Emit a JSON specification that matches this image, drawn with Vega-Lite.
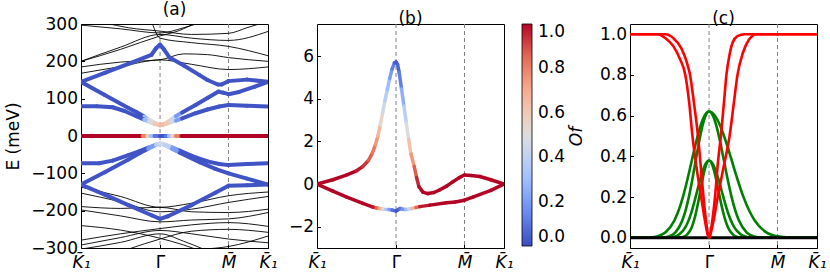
{
"$schema": "https://vega.github.io/schema/vega-lite/v6.json",
"padding": {"left": 4, "top": 0, "right": 0, "bottom": 0},
"spacing": 49,
"bounds": "flush",
"datasets": {
"sym": [{"k": 1}, {"k": 1.866}],
"blackA": [
{"b":"u1","k":0,"E":297},{"b":"u1","k":0.5,"E":287},{"b":"u1","k":1,"E":276},{"b":"u1","k":1.3,"E":290},{"b":"u1","k":1.5,"E":303},
{"b":"u2","k":0,"E":200},{"b":"u2","k":0.5,"E":238},{"b":"u2","k":1,"E":272},{"b":"u2","k":1.4,"E":262},{"b":"u2","k":1.866,"E":256},{"b":"u2","k":2.366,"E":280},
{"b":"u3","k":0,"E":200},{"b":"u3","k":0.5,"E":232},{"b":"u3","k":1,"E":268},{"b":"u3","k":1.25,"E":283},{"b":"u3","k":1.45,"E":303},
{"b":"u4","k":0.3,"E":303},{"b":"u4","k":0.6,"E":290},{"b":"u4","k":1,"E":281},{"b":"u4","k":1.4,"E":272},{"b":"u4","k":1.866,"E":275},{"b":"u4","k":2.1,"E":290},{"b":"u4","k":2.3,"E":303},
{"b":"u5","k":0,"E":185},{"b":"u5","k":0.5,"E":198},{"b":"u5","k":1,"E":204},{"b":"u5","k":1.3,"E":220},{"b":"u5","k":1.6,"E":218},{"b":"u5","k":1.866,"E":210},{"b":"u5","k":2.366,"E":200},
{"b":"u6","k":0,"E":168},{"b":"u6","k":0.5,"E":186},{"b":"u6","k":1,"E":204},{"b":"u6","k":1.4,"E":192},{"b":"u6","k":1.866,"E":178},{"b":"u6","k":2.366,"E":185},
{"b":"u7","k":0.9,"E":303},{"b":"u7","k":1,"E":262},{"b":"u7","k":1.4,"E":250},{"b":"u7","k":1.866,"E":240},{"b":"u7","k":2.366,"E":215},
{"b":"l1","k":0,"E":-137},{"b":"l1","k":0.5,"E":-162},{"b":"l1","k":1,"E":-191},{"b":"l1","k":1.4,"E":-180},{"b":"l1","k":1.866,"E":-160},{"b":"l1","k":2.366,"E":-150},
{"b":"l2","k":0,"E":-153},{"b":"l2","k":0.5,"E":-176},{"b":"l2","k":1,"E":-203},{"b":"l2","k":1.4,"E":-196},{"b":"l2","k":1.866,"E":-178},{"b":"l2","k":2.366,"E":-162},
{"b":"l3","k":0,"E":-189},{"b":"l3","k":0.5,"E":-194},{"b":"l3","k":1,"E":-191},{"b":"l3","k":1.4,"E":-203},{"b":"l3","k":1.866,"E":-205},{"b":"l3","k":2.366,"E":-196},
{"b":"l4","k":0,"E":-198},{"b":"l4","k":0.5,"E":-214},{"b":"l4","k":1,"E":-230},{"b":"l4","k":1.4,"E":-225},{"b":"l4","k":1.866,"E":-222},{"b":"l4","k":2.366,"E":-205},
{"b":"l5","k":0,"E":-279},{"b":"l5","k":0.5,"E":-262},{"b":"l5","k":1,"E":-248},{"b":"l5","k":1.4,"E":-238},{"b":"l5","k":1.866,"E":-232},{"b":"l5","k":2.366,"E":-242},
{"b":"l6","k":0,"E":-292},{"b":"l6","k":0.5,"E":-272},{"b":"l6","k":1,"E":-253},{"b":"l6","k":1.4,"E":-262},{"b":"l6","k":1.866,"E":-276},{"b":"l6","k":2.366,"E":-286},
{"b":"l7","k":0,"E":-303},{"b":"l7","k":0.5,"E":-285},{"b":"l7","k":1,"E":-262},{"b":"l7","k":1.3,"E":-282},{"b":"l7","k":1.55,"E":-303},
{"b":"l8","k":0,"E":-240},{"b":"l8","k":0.5,"E":-252},{"b":"l8","k":1,"E":-274},{"b":"l8","k":1.3,"E":-292},{"b":"l8","k":1.45,"E":-303},
{"b":"l9","k":1.55,"E":-303},{"b":"l9","k":1.866,"E":-296},{"b":"l9","k":2.366,"E":-268},
{"b":"l10","k":0.6,"E":-303},{"b":"l10","k":1,"E":-276},{"b":"l10","k":1.4,"E":-255},{"b":"l10","k":1.866,"E":-250},{"b":"l10","k":2.366,"E":-258}
],
"colA": [
{"b":"U1","k":0,"E":145,"O":0.02},{"b":"U1","k":0.3,"E":169,"O":0.02},{"b":"U1","k":0.6,"E":193,"O":0.02},{"b":"U1","k":0.89,"E":217,"O":0.02},{"b":"U1","k":0.95,"E":235,"O":0.02},{"b":"U1","k":1,"E":245,"O":0.02},{"b":"U1","k":1.05,"E":232,"O":0.02},{"b":"U1","k":1.12,"E":210,"O":0.02},{"b":"U1","k":1.3,"E":189,"O":0.02},{"b":"U1","k":1.5,"E":163,"O":0.02},{"b":"U1","k":1.6,"E":150,"O":0.02},{"b":"U1","k":1.73,"E":138,"O":0.02},{"b":"U1","k":1.78,"E":138,"O":0.02},{"b":"U1","k":1.866,"E":147,"O":0.02},{"b":"U1","k":2.1,"E":151,"O":0.02},{"b":"U1","k":2.366,"E":145,"O":0.02},
{"b":"U2","k":0,"E":145,"O":0.02},{"b":"U2","k":0.3,"E":110,"O":0.02},{"b":"U2","k":0.6,"E":75,"O":0.02},{"b":"U2","k":0.7,"E":64,"O":0.02},{"b":"U2","k":0.8,"E":52,"O":0.3},{"b":"U2","k":0.86,"E":44,"O":0.5},{"b":"U2","k":0.93,"E":35,"O":0.6},{"b":"U2","k":1,"E":29,"O":0.65},{"b":"U2","k":1.07,"E":33,"O":0.6},{"b":"U2","k":1.14,"E":44,"O":0.45},{"b":"U2","k":1.2,"E":53,"O":0.2},{"b":"U2","k":1.28,"E":63,"O":0.02},{"b":"U2","k":1.45,"E":83,"O":0.02},{"b":"U2","k":1.6,"E":102,"O":0.02},{"b":"U2","k":1.74,"E":119,"O":0.02},{"b":"U2","k":1.8,"E":116,"O":0.02},{"b":"U2","k":1.866,"E":112,"O":0.02},{"b":"U2","k":2,"E":118,"O":0.02},{"b":"U2","k":2.2,"E":132,"O":0.02},{"b":"U2","k":2.366,"E":145,"O":0.02},
{"b":"U3","k":0,"E":80,"O":0.02},{"b":"U3","k":0.2,"E":80,"O":0.02},{"b":"U3","k":0.4,"E":77,"O":0.02},{"b":"U3","k":0.55,"E":67,"O":0.02},{"b":"U3","k":0.7,"E":53,"O":0.02},{"b":"U3","k":0.8,"E":44,"O":0.3},{"b":"U3","k":0.86,"E":38,"O":0.5},{"b":"U3","k":0.93,"E":32,"O":0.6},{"b":"U3","k":1,"E":29,"O":0.65},{"b":"U3","k":1.07,"E":32,"O":0.6},{"b":"U3","k":1.14,"E":37,"O":0.45},{"b":"U3","k":1.2,"E":41,"O":0.2},{"b":"U3","k":1.28,"E":47,"O":0.02},{"b":"U3","k":1.45,"E":61,"O":0.02},{"b":"U3","k":1.6,"E":71,"O":0.02},{"b":"U3","k":1.75,"E":79,"O":0.02},{"b":"U3","k":1.866,"E":83,"O":0.02},{"b":"U3","k":2.1,"E":81,"O":0.02},{"b":"U3","k":2.366,"E":79,"O":0.02},
{"b":"L1","k":0,"E":-73,"O":0.02},{"b":"L1","k":0.23,"E":-73,"O":0.02},{"b":"L1","k":0.4,"E":-66,"O":0.02},{"b":"L1","k":0.6,"E":-51,"O":0.02},{"b":"L1","k":0.75,"E":-40,"O":0.02},{"b":"L1","k":0.85,"E":-31,"O":0.2},{"b":"L1","k":0.95,"E":-23,"O":0.4},{"b":"L1","k":1,"E":-20,"O":0.45},{"b":"L1","k":1.05,"E":-22,"O":0.4},{"b":"L1","k":1.15,"E":-30,"O":0.2},{"b":"L1","k":1.25,"E":-39,"O":0.02},{"b":"L1","k":1.4,"E":-53,"O":0.02},{"b":"L1","k":1.6,"E":-68,"O":0.02},{"b":"L1","k":1.75,"E":-75,"O":0.02},{"b":"L1","k":1.866,"E":-78,"O":0.02},{"b":"L1","k":2.1,"E":-75,"O":0.02},{"b":"L1","k":2.366,"E":-73,"O":0.02},
{"b":"L2","k":0,"E":-130,"O":0.02},{"b":"L2","k":0.3,"E":-97,"O":0.02},{"b":"L2","k":0.6,"E":-63,"O":0.02},{"b":"L2","k":0.75,"E":-45,"O":0.02},{"b":"L2","k":0.85,"E":-34,"O":0.2},{"b":"L2","k":0.95,"E":-24,"O":0.4},{"b":"L2","k":1,"E":-20,"O":0.45},{"b":"L2","k":1.05,"E":-24,"O":0.4},{"b":"L2","k":1.15,"E":-34,"O":0.2},{"b":"L2","k":1.25,"E":-45,"O":0.02},{"b":"L2","k":1.5,"E":-70,"O":0.02},{"b":"L2","k":1.7,"E":-88,"O":0.02},{"b":"L2","k":1.866,"E":-100,"O":0.02},{"b":"L2","k":2.1,"E":-114,"O":0.02},{"b":"L2","k":2.366,"E":-130,"O":0.02},
{"b":"L3","k":0,"E":-130,"O":0.02},{"b":"L3","k":0.3,"E":-157,"O":0.02},{"b":"L3","k":0.6,"E":-185,"O":0.02},{"b":"L3","k":0.9,"E":-213,"O":0.02},{"b":"L3","k":1,"E":-222,"O":0.02},{"b":"L3","k":1.1,"E":-215,"O":0.02},{"b":"L3","k":1.4,"E":-185,"O":0.02},{"b":"L3","k":1.7,"E":-152,"O":0.02},{"b":"L3","k":1.866,"E":-133,"O":0.02},{"b":"L3","k":2.1,"E":-132,"O":0.02},{"b":"L3","k":2.366,"E":-130,"O":0.02},
{"b":"F","k":0,"E":0,"O":1},{"b":"F","k":0.5,"E":0,"O":1},{"b":"F","k":0.72,"E":0,"O":1},{"b":"F","k":0.78,"E":0,"O":0.8},{"b":"F","k":0.84,"E":0,"O":0.55},{"b":"F","k":0.88,"E":0,"O":0.3},{"b":"F","k":0.93,"E":0,"O":0.1},{"b":"F","k":1,"E":0,"O":0.02},{"b":"F","k":1.07,"E":0,"O":0.1},{"b":"F","k":1.11,"E":0,"O":0.3},{"b":"F","k":1.15,"E":0,"O":0.55},{"b":"F","k":1.2,"E":0,"O":0.8},{"b":"F","k":1.27,"E":0,"O":1},{"b":"F","k":1.6,"E":0,"O":1},{"b":"F","k":2,"E":0,"O":1},{"b":"F","k":2.366,"E":0,"O":1}
],
"colB": [
{"b":"UB","k":0,"E":0,"O":1},{"b":"UB","k":0.2,"E":0.2,"O":1},{"b":"UB","k":0.37,"E":0.42,"O":1},{"b":"UB","k":0.5,"E":0.62,"O":0.97},{"b":"UB","k":0.58,"E":0.82,"O":0.93},{"b":"UB","k":0.65,"E":1.1,"O":0.87},{"b":"UB","k":0.7,"E":1.45,"O":0.82},{"b":"UB","k":0.74,"E":1.85,"O":0.75},{"b":"UB","k":0.77,"E":2.24,"O":0.66},{"b":"UB","k":0.8,"E":2.75,"O":0.55},{"b":"UB","k":0.83,"E":3.34,"O":0.45},{"b":"UB","k":0.86,"E":3.9,"O":0.37},{"b":"UB","k":0.89,"E":4.44,"O":0.3},{"b":"UB","k":0.92,"E":4.95,"O":0.2},{"b":"UB","k":0.95,"E":5.39,"O":0.12},{"b":"UB","k":0.98,"E":5.68,"O":0.05},{"b":"UB","k":1,"E":5.72,"O":0.03},{"b":"UB","k":1.02,"E":5.6,"O":0.06},{"b":"UB","k":1.04,"E":5.23,"O":0.12},{"b":"UB","k":1.07,"E":4.45,"O":0.25},{"b":"UB","k":1.1,"E":3.65,"O":0.38},{"b":"UB","k":1.13,"E":2.85,"O":0.5},{"b":"UB","k":1.16,"E":2.08,"O":0.63},{"b":"UB","k":1.19,"E":1.4,"O":0.75},{"b":"UB","k":1.23,"E":0.82,"O":0.87},{"b":"UB","k":1.26,"E":0.3,"O":0.95},{"b":"UB","k":1.29,"E":-0.13,"O":0.99},{"b":"UB","k":1.34,"E":-0.38,"O":1},{"b":"UB","k":1.4,"E":-0.45,"O":1},{"b":"UB","k":1.48,"E":-0.4,"O":1},{"b":"UB","k":1.55,"E":-0.28,"O":1},{"b":"UB","k":1.64,"E":-0.1,"O":1},{"b":"UB","k":1.72,"E":0.11,"O":1},{"b":"UB","k":1.8,"E":0.3,"O":1},{"b":"UB","k":1.866,"E":0.42,"O":1},{"b":"UB","k":1.95,"E":0.4,"O":1},{"b":"UB","k":2.06,"E":0.35,"O":1},{"b":"UB","k":2.2,"E":0.2,"O":1},{"b":"UB","k":2.366,"E":0,"O":1},
{"b":"LB","k":0,"E":0,"O":1},{"b":"LB","k":0.2,"E":-0.33,"O":1},{"b":"LB","k":0.37,"E":-0.6,"O":1},{"b":"LB","k":0.58,"E":-0.91,"O":1},{"b":"LB","k":0.7,"E":-1.07,"O":0.97},{"b":"LB","k":0.75,"E":-1.12,"O":0.85},{"b":"LB","k":0.79,"E":-1.15,"O":0.7},{"b":"LB","k":0.83,"E":-1.17,"O":0.5},{"b":"LB","k":0.87,"E":-1.19,"O":0.35},{"b":"LB","k":0.91,"E":-1.2,"O":0.2},{"b":"LB","k":0.95,"E":-1.22,"O":0.08},{"b":"LB","k":1,"E":-1.27,"O":0.02},{"b":"LB","k":1.03,"E":-1.2,"O":0.05},{"b":"LB","k":1.05,"E":-1.15,"O":0.1},{"b":"LB","k":1.08,"E":-1.18,"O":0.18},{"b":"LB","k":1.12,"E":-1.2,"O":0.3},{"b":"LB","k":1.16,"E":-1.18,"O":0.45},{"b":"LB","k":1.2,"E":-1.15,"O":0.65},{"b":"LB","k":1.25,"E":-1.1,"O":0.85},{"b":"LB","k":1.3,"E":-1.06,"O":0.97},{"b":"LB","k":1.43,"E":-0.99,"O":1},{"b":"LB","k":1.64,"E":-0.88,"O":1},{"b":"LB","k":1.75,"E":-0.84,"O":1},{"b":"LB","k":1.866,"E":-0.76,"O":1},{"b":"LB","k":1.98,"E":-0.6,"O":1},{"b":"LB","k":2.2,"E":-0.3,"O":1},{"b":"LB","k":2.366,"E":0,"O":1}
],
"ofR": [
{"b":"r1","k":0,"O":1},{"b":"r1","k":0.45,"O":1},{"b":"r1","k":0.55,"O":0.98},{"b":"r1","k":0.65,"O":0.93},{"b":"r1","k":0.72,"O":0.86},{"b":"r1","k":0.76,"O":0.8},{"b":"r1","k":0.81,"O":0.66},{"b":"r1","k":0.86,"O":0.5},{"b":"r1","k":0.9,"O":0.33},{"b":"r1","k":0.93,"O":0.2},{"b":"r1","k":0.96,"O":0.09},{"b":"r1","k":0.98,"O":0.03},{"b":"r1","k":1,"O":0},{"b":"r1","k":1.02,"O":0.03},{"b":"r1","k":1.05,"O":0.11},{"b":"r1","k":1.08,"O":0.22},{"b":"r1","k":1.11,"O":0.36},{"b":"r1","k":1.15,"O":0.5},{"b":"r1","k":1.19,"O":0.67},{"b":"r1","k":1.22,"O":0.8},{"b":"r1","k":1.26,"O":0.9},{"b":"r1","k":1.3,"O":0.96},{"b":"r1","k":1.36,"O":0.99},{"b":"r1","k":1.45,"O":1},{"b":"r1","k":2.366,"O":1},
{"b":"r2","k":0,"O":1},{"b":"r2","k":0.35,"O":1},{"b":"r2","k":0.45,"O":0.98},{"b":"r2","k":0.55,"O":0.94},{"b":"r2","k":0.63,"O":0.88},{"b":"r2","k":0.7,"O":0.8},{"b":"r2","k":0.75,"O":0.66},{"b":"r2","k":0.79,"O":0.5},{"b":"r2","k":0.84,"O":0.35},{"b":"r2","k":0.9,"O":0.2},{"b":"r2","k":0.95,"O":0.08},{"b":"r2","k":0.98,"O":0.02},{"b":"r2","k":1,"O":0},{"b":"r2","k":1.02,"O":0.02},{"b":"r2","k":1.05,"O":0.07},{"b":"r2","k":1.11,"O":0.2},{"b":"r2","k":1.18,"O":0.34},{"b":"r2","k":1.26,"O":0.5},{"b":"r2","k":1.31,"O":0.65},{"b":"r2","k":1.36,"O":0.8},{"b":"r2","k":1.43,"O":0.91},{"b":"r2","k":1.5,"O":0.97},{"b":"r2","k":1.6,"O":1},{"b":"r2","k":2.366,"O":1}
],
"ofG": [
{"b":"g1","k":0,"O":0},{"b":"g1","k":0.23,"O":0.001},{"b":"g1","k":0.34,"O":0.007},{"b":"g1","k":0.45,"O":0.027},{"b":"g1","k":0.56,"O":0.084},{"b":"g1","k":0.615,"O":0.134},{"b":"g1","k":0.67,"O":0.201},{"b":"g1","k":0.725,"O":0.284},{"b":"g1","k":0.78,"O":0.376},{"b":"g1","k":0.835,"O":0.468},{"b":"g1","k":0.89,"O":0.547},{"b":"g1","k":0.945,"O":0.601},{"b":"g1","k":1,"O":0.62},{"b":"g1","k":1.0725,"O":0.601},{"b":"g1","k":1.145,"O":0.547},{"b":"g1","k":1.2175,"O":0.468},{"b":"g1","k":1.29,"O":0.376},{"b":"g1","k":1.3625,"O":0.284},{"b":"g1","k":1.435,"O":0.201},{"b":"g1","k":1.5075,"O":0.134},{"b":"g1","k":1.58,"O":0.084},{"b":"g1","k":1.725,"O":0.027},{"b":"g1","k":1.87,"O":0.007},{"b":"g1","k":2.015,"O":0.001},{"b":"g1","k":2.366,"O":0},
{"b":"g2","k":0,"O":0},{"b":"g2","k":0.405,"O":0.001},{"b":"g2","k":0.49,"O":0.007},{"b":"g2","k":0.575,"O":0.027},{"b":"g2","k":0.66,"O":0.084},{"b":"g2","k":0.7025,"O":0.134},{"b":"g2","k":0.745,"O":0.201},{"b":"g2","k":0.7875,"O":0.284},{"b":"g2","k":0.83,"O":0.376},{"b":"g2","k":0.8725,"O":0.468},{"b":"g2","k":0.915,"O":0.547},{"b":"g2","k":0.9575,"O":0.601},{"b":"g2","k":1,"O":0.62},{"b":"g2","k":1.0475,"O":0.601},{"b":"g2","k":1.095,"O":0.547},{"b":"g2","k":1.1425,"O":0.468},{"b":"g2","k":1.19,"O":0.376},{"b":"g2","k":1.2375,"O":0.284},{"b":"g2","k":1.285,"O":0.201},{"b":"g2","k":1.3325,"O":0.134},{"b":"g2","k":1.38,"O":0.084},{"b":"g2","k":1.475,"O":0.027},{"b":"g2","k":1.57,"O":0.007},{"b":"g2","k":1.665,"O":0.001},{"b":"g2","k":2.366,"O":0},
{"b":"g3","k":0,"O":0},{"b":"g3","k":0.475,"O":0.001},{"b":"g3","k":0.55,"O":0.004},{"b":"g3","k":0.625,"O":0.017},{"b":"g3","k":0.7,"O":0.051},{"b":"g3","k":0.7375,"O":0.082},{"b":"g3","k":0.775,"O":0.123},{"b":"g3","k":0.8125,"O":0.174},{"b":"g3","k":0.85,"O":0.23},{"b":"g3","k":0.8875,"O":0.287},{"b":"g3","k":0.925,"O":0.335},{"b":"g3","k":0.9625,"O":0.368},{"b":"g3","k":1,"O":0.38},{"b":"g3","k":1.04,"O":0.368},{"b":"g3","k":1.08,"O":0.335},{"b":"g3","k":1.12,"O":0.287},{"b":"g3","k":1.16,"O":0.23},{"b":"g3","k":1.2,"O":0.174},{"b":"g3","k":1.24,"O":0.123},{"b":"g3","k":1.28,"O":0.082},{"b":"g3","k":1.32,"O":0.051},{"b":"g3","k":1.4,"O":0.017},{"b":"g3","k":1.48,"O":0.004},{"b":"g3","k":1.56,"O":0.001},{"b":"g3","k":2.366,"O":0},
{"b":"g4","k":0,"O":0},{"b":"g4","k":0.615,"O":0.001},{"b":"g4","k":0.67,"O":0.004},{"b":"g4","k":0.725,"O":0.017},{"b":"g4","k":0.78,"O":0.051},{"b":"g4","k":0.8075,"O":0.082},{"b":"g4","k":0.835,"O":0.123},{"b":"g4","k":0.8625,"O":0.174},{"b":"g4","k":0.89,"O":0.23},{"b":"g4","k":0.9175,"O":0.287},{"b":"g4","k":0.945,"O":0.335},{"b":"g4","k":0.9725,"O":0.368},{"b":"g4","k":1,"O":0.38},{"b":"g4","k":1.03,"O":0.368},{"b":"g4","k":1.06,"O":0.335},{"b":"g4","k":1.09,"O":0.287},{"b":"g4","k":1.12,"O":0.23},{"b":"g4","k":1.15,"O":0.174},{"b":"g4","k":1.18,"O":0.123},{"b":"g4","k":1.21,"O":0.082},{"b":"g4","k":1.24,"O":0.051},{"b":"g4","k":1.3,"O":0.017},{"b":"g4","k":1.36,"O":0.004},{"b":"g4","k":1.42,"O":0.001},{"b":"g4","k":2.366,"O":0}
],
"ofZ": [{"b":"z","k":0,"O":0},{"b":"z","k":2.366,"O":0}]
},
"hconcat": [
{
"width": 187, "height": 224,
"title": "(a)",
"layer": [
{"data": {"name": "sym"},
 "mark": {"type": "rule", "color": "#808080", "strokeDash": [4, 3], "strokeWidth": 1},
 "encoding": {"x": {"field": "k", "type": "quantitative",
   "scale": {"domain": [0, 2.366], "nice": false, "zero": false},
   "axis": {"values": [0, 1, 1.866, 2.366], "title": null, "labelFlush": false, "labelOverlap": false, "labelPadding": 10,
     "labelExpr": "datum.value < 0.5 ? 'K\u0304\u2081' : datum.value < 1.5 ? '\u0393\u0304' : datum.value < 2.1 ? 'M\u0304' : 'K\u0304\u2081'",
     "labelFontStyle": {"condition": {"test": "datum.value > 0.5 && datum.value < 1.5", "value": "normal"}, "value": "italic"}}}}},
{"data": {"name": "blackA"},
 "mark": {"type": "line", "color": "black", "strokeWidth": 0.9, "clip": true, "interpolate": "monotone"},
 "encoding": {"x": {"field": "k", "type": "quantitative"},
   "y": {"field": "E", "type": "quantitative", "scale": {"domain": [-300, 300], "nice": false},
     "axis": {"values": [-300, -200, -100, 0, 100, 200, 300], "labelOverlap": false, "labelSeparation": 0, "title": "E (meV)", "titlePadding": 8}},
   "detail": {"field": "b"}}},
{"data": {"name": "colA"},
 "transform": [
   {"window": [{"op": "lead", "field": "k", "as": "k2"}, {"op": "lead", "field": "E", "as": "E2"}], "groupby": ["b"], "sort": [{"field": "k", "order": "ascending"}]},
   {"filter": "datum.k2 != null"}],
 "mark": {"type": "rule", "strokeWidth": 4, "strokeCap": "round", "clip": true},
 "encoding": {"x": {"field": "k", "type": "quantitative"}, "x2": {"field": "k2"},
   "y": {"field": "E", "type": "quantitative",
     "axis": {"values": [-300, -200, -100, 0, 100, 200, 300], "labelOverlap": false, "labelSeparation": 0, "title": "E (meV)", "titlePadding": 8}},
   "y2": {"field": "E2"},
   "color": {"field": "O", "type": "quantitative",
     "scale": {"domain": [0, 0.143, 0.286, 0.429, 0.5, 0.571, 0.714, 0.857, 1], "range": ["#3b4cc0", "#6788ee", "#9abbff", "#c9d7f0", "#dddcdc", "#edd1c2", "#f7a889", "#e26952", "#b40426"], "interpolate": "rgb"},
     "legend": null}}}
]
},
{
"spacing": 126,
"bounds": "flush",
"resolve": {"scale": {"color": "independent"}, "legend": {"color": "independent"}},
"hconcat": [
{
"width": 187, "height": 224,
"title": "(b)",
"layer": [
{"data": {"name": "sym"},
 "mark": {"type": "rule", "color": "#808080", "strokeDash": [4, 3], "strokeWidth": 1},
 "encoding": {"x": {"field": "k", "type": "quantitative",
   "scale": {"domain": [0, 2.366], "nice": false, "zero": false},
   "axis": {"values": [0, 1, 1.866, 2.366], "title": null, "labelFlush": false, "labelOverlap": false, "labelPadding": 10,
     "labelExpr": "datum.value < 0.5 ? 'K\u0304\u2081' : datum.value < 1.5 ? '\u0393\u0304' : datum.value < 2.1 ? 'M\u0304' : 'K\u0304\u2081'",
     "labelFontStyle": {"condition": {"test": "datum.value > 0.5 && datum.value < 1.5", "value": "normal"}, "value": "italic"}}}}},
{"data": {"name": "colB"},
 "transform": [
   {"window": [{"op": "lead", "field": "k", "as": "k2"}, {"op": "lead", "field": "E", "as": "E2"}], "groupby": ["b"], "sort": [{"field": "k", "order": "ascending"}]},
   {"filter": "datum.k2 != null"}],
 "mark": {"type": "rule", "strokeWidth": 3.5, "strokeCap": "round", "clip": true},
 "encoding": {"x": {"field": "k", "type": "quantitative"}, "x2": {"field": "k2"},
   "y": {"field": "E", "type": "quantitative", "scale": {"domain": [-3, 7.5], "nice": false},
     "axis": {"values": [-2, 0, 2, 4, 6], "labelOverlap": false, "title": null}},
   "y2": {"field": "E2"},
   "color": {"field": "O", "type": "quantitative",
     "scale": {"domain": [0, 0.143, 0.286, 0.429, 0.5, 0.571, 0.714, 0.857, 1], "range": ["#3b4cc0", "#6788ee", "#9abbff", "#c9d7f0", "#dddcdc", "#edd1c2", "#f7a889", "#e26952", "#b40426"], "interpolate": "rgb"},
     "legend": {"title": null, "orient": "right", "offset": 18, "direction": "vertical", "gradientLength": 222, "gradientThickness": 10,
       "values": [0, 0.2, 0.4, 0.6, 0.8, 1], "format": ".1f", "labelFontSize": 17, "labelOffset": 6, "labelOverlap": false,
       "gradientStrokeColor": "black", "gradientStrokeWidth": 0.8, "labelColor": "black"}}}}
]
},
{
"width": 187, "height": 224,
"title": "(c)",
"layer": [
{"data": {"name": "sym"},
 "mark": {"type": "rule", "color": "#808080", "strokeDash": [4, 3], "strokeWidth": 1},
 "encoding": {"x": {"field": "k", "type": "quantitative",
   "scale": {"domain": [0, 2.366], "nice": false, "zero": false},
   "axis": {"values": [0, 1, 1.866, 2.366], "title": null, "labelFlush": false, "labelOverlap": false, "labelPadding": 10,
     "labelExpr": "datum.value < 0.5 ? 'K\u0304\u2081' : datum.value < 1.5 ? '\u0393\u0304' : datum.value < 2.1 ? 'M\u0304' : 'K\u0304\u2081'",
     "labelFontStyle": {"condition": {"test": "datum.value > 0.5 && datum.value < 1.5", "value": "normal"}, "value": "italic"}}}}},
{"data": {"name": "ofG"},
 "mark": {"type": "line", "color": "#008000", "strokeWidth": 2.6, "interpolate": "monotone", "clip": true},
 "encoding": {"x": {"field": "k", "type": "quantitative"},
   "y": {"field": "O", "type": "quantitative", "scale": {"domain": [-0.05, 1.05], "nice": false},
     "axis": {"values": [0, 0.2, 0.4, 0.6, 0.8, 1], "format": ".1f", "labelOverlap": false, "title": "Of", "titleFontStyle": "italic", "titlePadding": 14}},
   "detail": {"field": "b"}}},
{"data": {"name": "ofZ"},
 "mark": {"type": "line", "color": "black", "strokeWidth": 3},
 "encoding": {"x": {"field": "k", "type": "quantitative"}, "y": {"field": "O", "type": "quantitative"}}},
{"data": {"name": "ofR"},
 "mark": {"type": "line", "color": "#ff0000", "strokeWidth": 2.6, "interpolate": "monotone", "clip": true},
 "encoding": {"x": {"field": "k", "type": "quantitative"},
   "y": {"field": "O", "type": "quantitative"},
   "detail": {"field": "b"}}}
]
}
]
}
],
"resolve": {"scale": {"color": "independent"}, "legend": {"color": "independent"}},
"config": {
"font": "DejaVu Sans",
"view": {"stroke": "black", "strokeWidth": 1},
"axis": {"domain": false, "grid": false, "labelFontSize": 17, "titleFontSize": 17, "titleFontWeight": "normal", "labelColor": "black", "titleColor": "black", "tickColor": "black", "tickSize": -3.5, "labelPadding": 7, "titlePadding": 4},
"title": {"fontSize": 17, "fontWeight": "normal", "offset": -4, "color": "black"}
}
}
